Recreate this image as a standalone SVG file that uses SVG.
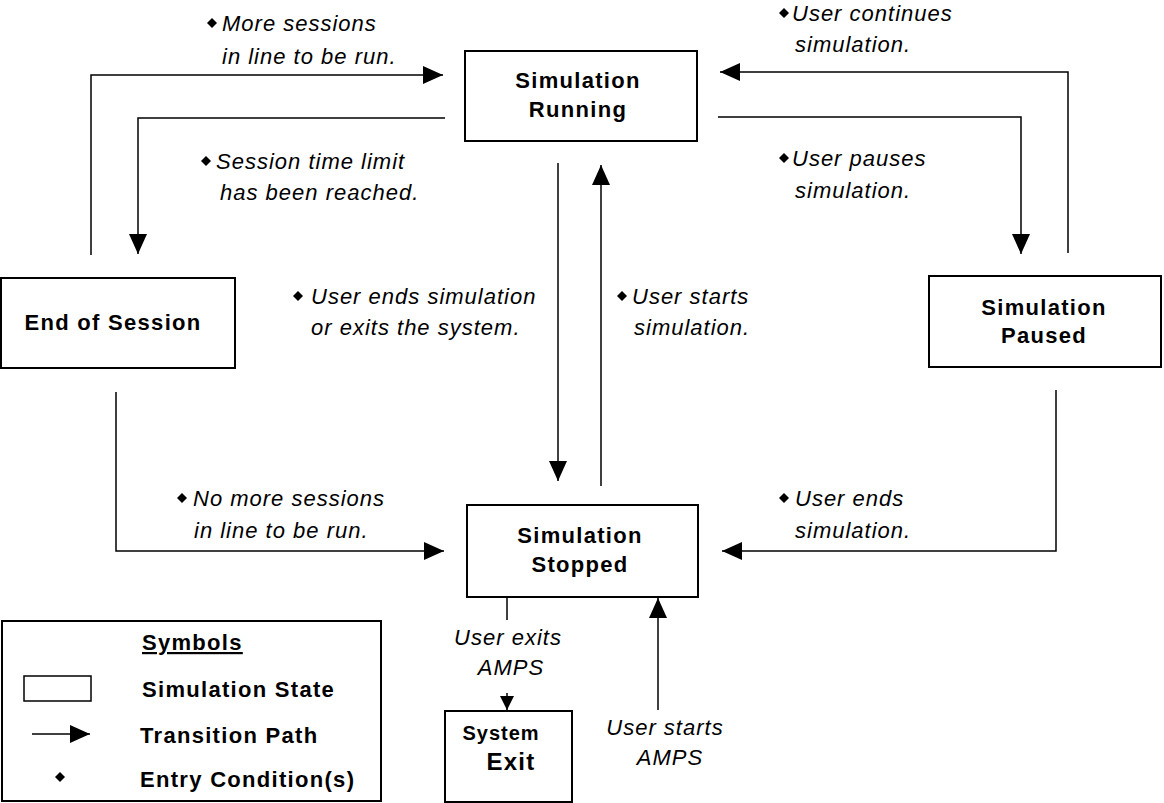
<svg xmlns="http://www.w3.org/2000/svg" width="1164" height="803" viewBox="0 0 1164 803">
<style>
.box{fill:#fff;stroke:#000;stroke-width:2}
.ln{fill:none;stroke:#000;stroke-width:1.5}
.b{font-family:"Liberation Sans",Arial,sans-serif;font-weight:bold;font-size:22px;letter-spacing:1.3px;fill:#000}
.i{font-family:"Liberation Sans",Arial,sans-serif;font-style:italic;font-size:22px;letter-spacing:1px;fill:#000}
.c{text-anchor:middle}
</style>
<defs>
<marker id="ah" markerUnits="userSpaceOnUse" markerWidth="20" markerHeight="18" refX="20" refY="9" orient="auto"><path d="M0,0 L20,9 L0,18 Z" fill="#000"/></marker>
<marker id="ahs" markerUnits="userSpaceOnUse" markerWidth="14" markerHeight="14" refX="14" refY="7" orient="auto"><path d="M0,0 L14,7 L0,14 Z" fill="#000"/></marker>
<path id="dia" d="M0,-5 L5,0 L0,5 L-5,0 Z" fill="#000"/>
</defs>
<rect x="0" y="0" width="1164" height="803" fill="#fff"/>

<g id="connectors">
<path class="ln" d="M91,255 V75 H443" marker-end="url(#ah)"/>
<path class="ln" d="M445,118 H138 V254" marker-end="url(#ah)"/>
<path class="ln" d="M718,117 H1021 V254" marker-end="url(#ah)"/>
<path class="ln" d="M1068,253 V72 H720" marker-end="url(#ah)"/>
<path class="ln" d="M558,163 V481" marker-end="url(#ah)"/>
<path class="ln" d="M601,486 V165" marker-end="url(#ah)"/>
<path class="ln" d="M116,392 V551 H444" marker-end="url(#ah)"/>
<path class="ln" d="M1056,390 V551 H722" marker-end="url(#ah)"/>
<path class="ln" d="M507,597 V620"/>
<path class="ln" d="M507,693 V710" marker-end="url(#ahs)"/>
<path class="ln" d="M658,710 V598" marker-end="url(#ah)"/>
</g>

<g id="labels">
<use href="#dia" x="212" y="23"/>
<text class="i" x="222" y="31">More sessions</text>
<text class="i" x="222" y="64">in line to be run.</text>
<use href="#dia" x="206" y="161"/>
<text class="i" x="216" y="169">Session time limit</text>
<text class="i" x="220" y="200">has been reached.</text>
<use href="#dia" x="784" y="13"/>
<text class="i" x="792" y="21">User continues</text>
<text class="i" x="795" y="52">simulation.</text>
<use href="#dia" x="784" y="158"/>
<text class="i" x="792" y="166">User pauses</text>
<text class="i" x="795" y="198">simulation.</text>
<use href="#dia" x="298" y="296"/>
<text class="i" x="311" y="304">User ends simulation</text>
<text class="i" x="311" y="335">or exits the system.</text>
<use href="#dia" x="622" y="296"/>
<text class="i" x="632" y="304">User starts</text>
<text class="i" x="634" y="335">simulation.</text>
<use href="#dia" x="182" y="498"/>
<text class="i" x="193" y="506">No more sessions</text>
<text class="i" x="194" y="538">in line to be run.</text>
<use href="#dia" x="784" y="498"/>
<text class="i" x="795" y="506">User ends</text>
<text class="i" x="795" y="538">simulation.</text>
<text class="i c" x="508" y="645">User exits</text>
<text class="i c" x="511" y="675">AMPS</text>
<text class="i c" x="665" y="735">User starts</text>
<text class="i c" x="670" y="765">AMPS</text>
</g>

<g id="running">
<rect class="box" x="465" y="51" width="232" height="90"/>
<text class="b c" x="578" y="88">Simulation</text>
<text class="b c" x="578" y="117">Running</text>
</g>
<g id="paused">
<rect class="box" x="929" y="276" width="232" height="91"/>
<text class="b c" x="1044" y="315">Simulation</text>
<text class="b c" x="1044" y="343">Paused</text>
</g>
<g id="end-of-session">
<rect class="box" x="1" y="278" width="234" height="90"/>
<text class="b c" x="113" y="330">End of Session</text>
</g>
<g id="stopped">
<rect class="box" x="467" y="505" width="231" height="92"/>
<text class="b c" x="580" y="543">Simulation</text>
<text class="b c" x="580" y="572">Stopped</text>
</g>
<g id="system-exit">
<rect class="box" x="445" y="711" width="127" height="91"/>
<text class="b c" x="501" y="740" style="font-size:20px;letter-spacing:1px">System</text>
<text class="b c" x="511" y="770" style="font-size:24px">Exit</text>
</g>

<g id="legend">
<rect class="box" x="2" y="621" width="379" height="180"/>
<text class="b" x="142" y="650" text-decoration="underline">Symbols</text>
<rect x="24" y="676" width="67" height="25" fill="#fff" stroke="#000" stroke-width="1.5"/>
<text class="b" x="142" y="697">Simulation State</text>
<path class="ln" d="M32,734 H90" marker-end="url(#ah)"/>
<text class="b" x="140" y="743">Transition Path</text>
<use href="#dia" x="60" y="777"/>
<text class="b" x="140" y="787">Entry Condition(s)</text>
</g>
</svg>
